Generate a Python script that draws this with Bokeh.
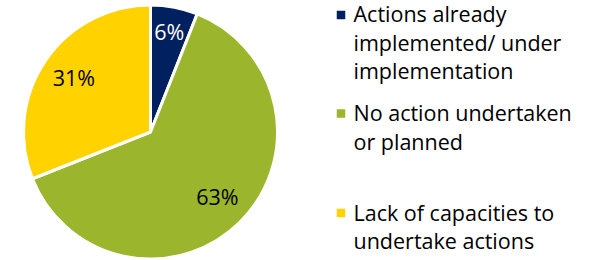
import math
from bokeh.plotting import figure
from bokeh.models import ColumnDataSource
from bokeh.core.properties import value
from bokeh.embed import file_html
from bokeh.resources import INLINE

categories = ["Actions already\nimplemented/ under\nimplementation",
              "No action undertaken\nor planned",
              "Lack of capacities to\nundertake actions"]
shares = [6, 63, 31]
labels = ["6%", "63%", "31%"]
colors = ["#002060", "#9BB52D", "#FFD200"]
label_colors = ["white", "black", "black"]
label_radius = [0.79, 0.745, 0.73]   # fraction of pie radius (style)

W, H = 589, 260
FONT = "Open Sans"
FS = "21.5px"

p = figure(width=W, height=H, x_range=(0, W), y_range=(0, H),
           output_backend="svg", toolbar_location=None, min_border=0)
p.axis.visible = False
p.grid.visible = False
p.outline_line_color = None
p.background_fill_color = "white"
p.border_fill_color = "white"

cx, cy, R = 150, 128.5, 127
total = sum(shares)
starts, ends, lx, ly = [], [], [], []
cum = 0
for s, rf in zip(shares, label_radius):
    a0 = math.pi / 2 - 2 * math.pi * cum / total
    cum += s
    a1 = math.pi / 2 - 2 * math.pi * cum / total
    starts.append(a0)
    ends.append(a1)
    mid = (a0 + a1) / 2
    lx.append(cx + rf * R * math.cos(mid))
    ly.append(cy + rf * R * math.sin(mid) + 2)

src = ColumnDataSource(dict(start=starts, end=ends, color=colors,
                            lx=lx, ly=ly, label=labels, lc=label_colors))
p.wedge(x=cx, y=cy, radius=R, start_angle="start", end_angle="end",
        direction="clock", fill_color="color", line_color="white",
        line_width=3, source=src)
p.text(x="lx", y="ly", text="label", text_color="lc", source=src,
       text_font=value(FONT), text_font_size=FS,
       text_align="center", text_baseline="middle")

# legend
first_lines = [247, 148, 48.5]
square_y = [245.5, 147, 47.5]
line_gap = 28.5
sq_x, txt_x = 340.5, 353
for cat, col, b, sy in zip(categories, colors, first_lines, square_y):
    lines = cat.split("\n")
    p.scatter(x=[sq_x], y=[sy], marker="square", size=8.5,
              fill_color=col, line_color=None)
    p.text(x=[txt_x] * len(lines), y=[b - i * line_gap for i in range(len(lines))],
           text=lines, text_font=value(FONT), text_font_size=FS,
           text_color="black", text_align="left", text_baseline="alphabetic")

open("out.html", "w").write(file_html(p, INLINE))
